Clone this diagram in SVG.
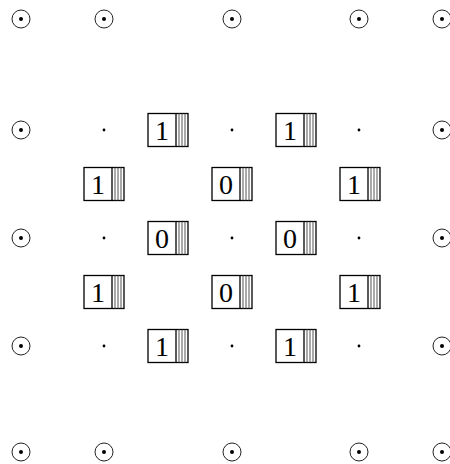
<svg xmlns="http://www.w3.org/2000/svg" width="450" height="464" viewBox="0 0 450 464">
<defs>
<style>
circle.o{fill:none;stroke:#222;stroke-width:1}
circle.c{fill:#000}
.dot{fill:#000}
rect.bx{fill:#fff;stroke:#000;stroke-width:1.3}
line.s{stroke:#555;stroke-width:1}
line.k{stroke:#000;stroke-width:1.3}
text.d{font-family:"Liberation Serif",serif;font-size:28px;fill:#000;text-anchor:middle}
</style>
<g id="odot"><circle class="o" r="9"/><circle class="c" r="2"/></g>
<g id="stack">
<rect class="bx" x="-20" y="-16.5" width="40" height="33"/>
<line class="k" x1="8" y1="-16.5" x2="8" y2="16.5"/>
<line class="s" x1="11" y1="-16.5" x2="11" y2="16.5"/>
<line class="s" x1="14" y1="-16.5" x2="14" y2="16.5"/>
<line class="s" x1="17" y1="-16.5" x2="17" y2="16.5"/>
</g>
</defs>
<g id="odots">
<use href="#odot" x="21" y="19"/><use href="#odot" x="104" y="19"/><use href="#odot" x="232" y="19"/><use href="#odot" x="359" y="19"/><use href="#odot" x="442" y="19"/>
<use href="#odot" x="21" y="130"/><use href="#odot" x="442" y="130"/>
<use href="#odot" x="21" y="238"/><use href="#odot" x="442" y="238"/>
<use href="#odot" x="21" y="346"/><use href="#odot" x="442" y="346"/>
<use href="#odot" x="21" y="452"/><use href="#odot" x="104" y="452"/><use href="#odot" x="232" y="452"/><use href="#odot" x="359" y="452"/><use href="#odot" x="442" y="452"/>
</g>
<g id="dots" class="dot">
<circle cx="104" cy="130" r="1.4"/><circle cx="232" cy="130" r="1.4"/><circle cx="359" cy="130" r="1.4"/>
<circle cx="104" cy="238" r="1.4"/><circle cx="232" cy="238" r="1.4"/><circle cx="359" cy="238" r="1.4"/>
<circle cx="104" cy="346" r="1.4"/><circle cx="232" cy="346" r="1.4"/><circle cx="359" cy="346" r="1.4"/>
</g>
<g id="b1" transform="translate(168,130)"><use href="#stack"/><text class="d" x="-6" y="9.5">1</text></g>
<g id="b2" transform="translate(296,130)"><use href="#stack"/><text class="d" x="-6" y="9.5">1</text></g>
<g id="b3" transform="translate(104,184)"><use href="#stack"/><text class="d" x="-6" y="9.5">1</text></g>
<g id="b4" transform="translate(232,184)"><use href="#stack"/><text class="d" x="-6" y="9.5">0</text></g>
<g id="b5" transform="translate(360,184)"><use href="#stack"/><text class="d" x="-6" y="9.5">1</text></g>
<g id="b6" transform="translate(168,238)"><use href="#stack"/><text class="d" x="-6" y="9.5">0</text></g>
<g id="b7" transform="translate(296,238)"><use href="#stack"/><text class="d" x="-6" y="9.5">0</text></g>
<g id="b8" transform="translate(104,292)"><use href="#stack"/><text class="d" x="-6" y="9.5">1</text></g>
<g id="b9" transform="translate(232,292)"><use href="#stack"/><text class="d" x="-6" y="9.5">0</text></g>
<g id="b10" transform="translate(360,292)"><use href="#stack"/><text class="d" x="-6" y="9.5">1</text></g>
<g id="b11" transform="translate(168,346)"><use href="#stack"/><text class="d" x="-6" y="9.5">1</text></g>
<g id="b12" transform="translate(296,346)"><use href="#stack"/><text class="d" x="-6" y="9.5">1</text></g>
<g id="connectors"/>
</svg>
